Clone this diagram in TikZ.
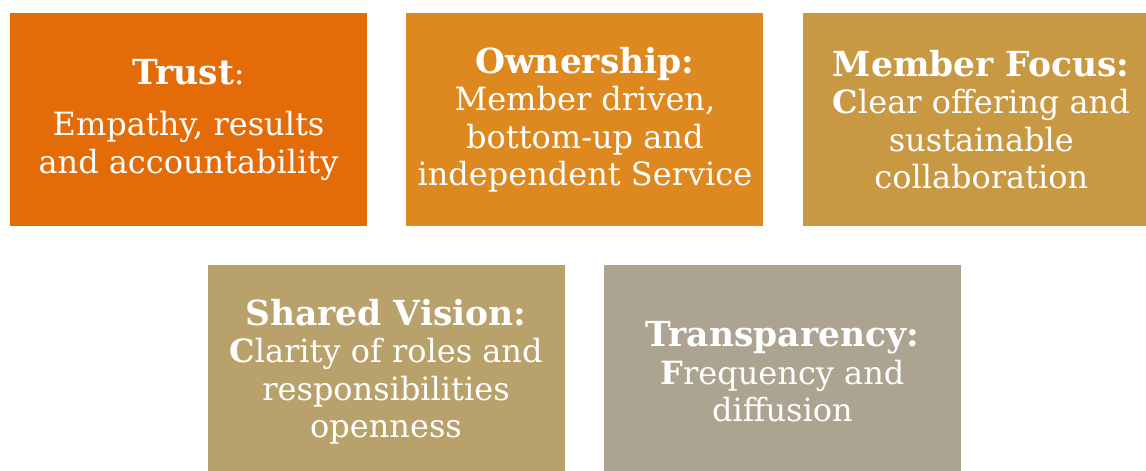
\documentclass[tikz,border=0pt]{standalone}
\usepackage{fontspec}
\setmainfont{DejaVu Serif}
\usepackage{tikz}
\usetikzlibrary{positioning}
\definecolor{trustcol}{HTML}{E36C09}
\definecolor{ownercol}{HTML}{DE8820}
\definecolor{focuscol}{HTML}{C99843}
\definecolor{visioncol}{HTML}{B9A16B}
\definecolor{transpcol}{HTML}{ACA490}
% bold heading line of each box
\newcommand{\valuehead}[1]{{\fontsize{34.5}{37.5}\selectfont\bfseries #1}}

\begin{document}
\begin{tikzpicture}[
    x=1pt, y=-1pt,
    node distance=39pt,
    font=\fontsize{32}{37.5}\selectfont,
    value/.style={
		rectangle,
		minimum width=357pt,
		minimum height=213pt,
		inner sep=0pt,
		text=white,
		align=center
	}
  ]
  % page area, the right and lower boxes run past it
  \fill [white] (0,0) rectangle (1146,471);
  \clip (0,0) rectangle (1146,471);

  % top row
  \node [value, fill=trustcol] (trust) at (188.5,119.5)
 {\valuehead{Trust}:\\[14pt]
  Empathy, results\\
  and accountability};

  \node [value, fill=ownercol, right=of trust] (ownership)
 {\valuehead{Ownership:}\\
  Member driven,\\
  bottom-up and\\
  independent Service};

  \node [value, fill=focuscol, right=of ownership] (focus)
 {\valuehead{Member Focus:}\\
  \textbf{C}lear offering and\\
  sustainable\\
  collaboration};

  % bottom row
  \node [value, fill=visioncol, below=of trust, xshift=197.5pt] (vision)
 {\valuehead{Shared Vision:}\\
  \textbf{C}larity of roles and\\
  responsibilities\\
  openness};

  \node [value, fill=transpcol, right=of vision] (transparency)
 {\valuehead{Transparency:}\\
  \textbf{F}requency and\\
  diffusion};

\end{tikzpicture}
\end{document}
